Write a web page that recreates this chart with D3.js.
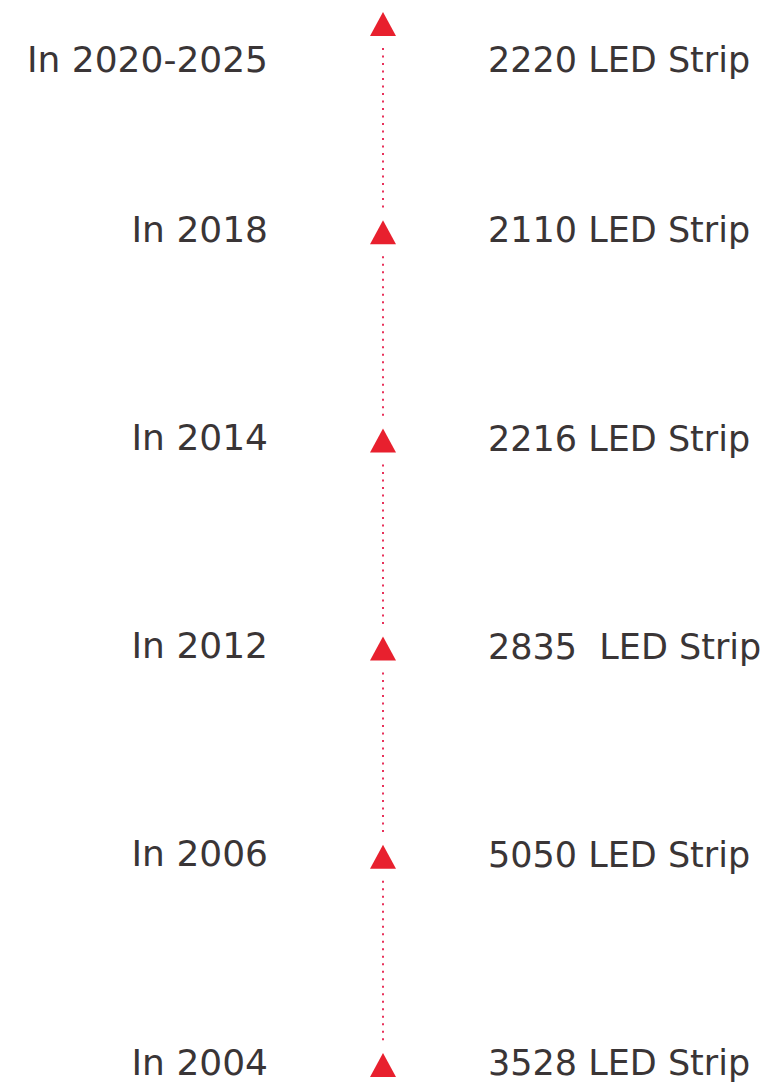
<!DOCTYPE html>
<html>
<head>
<meta charset="utf-8">
<script src="https://cdn.jsdelivr.net/npm/d3@7"></script>
<style>
  html, body { margin: 0; padding: 0; background: #fff; }
  svg { display: block; }
  text { font-family: "Century Gothic", "DejaVu Sans", sans-serif; fill: #3a3536; white-space: pre; }
</style>
</head>
<body>
<svg width="763" height="1084"></svg>
<script>
// timeline entries, oldest first
var years = ["In 2004", "In 2006", "In 2012", "In 2014", "In 2018", "In 2020-2025"];
var strips = ["3528 LED Strip", "5050 LED Strip", "2835  LED Strip", "2216 LED Strip", "2110 LED Strip", "2220 LED Strip"];

var svg = d3.select("svg");
var AXIS_X = 383;
var TRI_H = 24, TRI_W = 26;

// index -> triangle tip y
var y = d3.scaleLinear().domain([0, years.length - 1]).range([1053, 12]);

var idx = d3.range(years.length);

/* dotted connectors */
var dots = svg.append("g").attr("class", "dots");
idx.slice(0, -1).forEach(function(i) {
  dots.append("line")
    .attr("x1", AXIS_X).attr("x2", AXIS_X)
    .attr("y1", y(i + 1) + TRI_H + 12)
    .attr("y2", y(i) - 8)
    .attr("stroke", "#e8315a")
    .attr("stroke-width", 2)
    .attr("stroke-dasharray", "2,5.5");
});

/* triangles */
svg.append("g").selectAll("path").data(idx).enter().append("path")
  .attr("d", function(i) {
    var t = y(i);
    return "M" + AXIS_X + "," + t + "L" + (AXIS_X + TRI_W / 2) + "," + (t + TRI_H) + "L" + (AXIS_X - TRI_W / 2) + "," + (t + TRI_H) + "Z";
  })
  .attr("fill", "#e8202e");

function labelY(i) {
  var c = y(i) + TRI_H / 2;
  if (i === years.length - 1) c = 62; // top label sits lower than its marker
  return c - 3;
}

svg.append("g").selectAll("text").data(idx).enter().append("text")
  .attr("x", 268)
  .attr("y", labelY)
  .attr("dy", "0.35em")
  .attr("text-anchor", "end")
  .attr("font-size", 36)
  .text(function(i) { return years[i]; });

svg.append("g").selectAll("text").data(idx).enter().append("text")
  .attr("x", 488)
  .attr("y", function(i) { return labelY(i) + 1; })
  .attr("dy", "0.35em")
  .attr("font-size", 35)
  .text(function(i) { return strips[i]; });
</script>
</body>
</html>
